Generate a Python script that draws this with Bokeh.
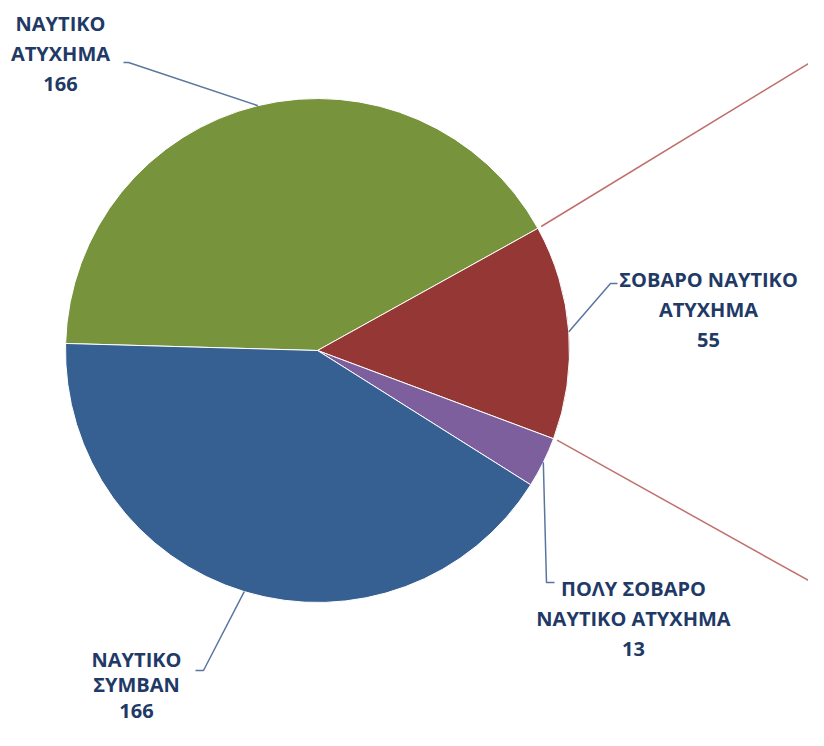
import math
from bokeh.plotting import figure
from bokeh.models import Range1d
from bokeh.core.properties import value
from bokeh.embed import file_html
from bokeh.resources import INLINE

# ---- data ----
categories = ["ΝΑΥΤΙΚΟ\nΑΤΥΧΗΜΑ", "ΣΟΒΑΡΟ ΝΑΥΤΙΚΟ\nΑΤΥΧΗΜΑ", "ΠΟΛΥ ΣΟΒΑΡΟ\nΝΑΥΤΙΚΟ ΑΤΥΧΗΜΑ", "ΝΑΥΤΙΚΟ\nΣΥΜΒΑΝ"]
counts = [166, 55, 13, 166]
colors = ["#77933C", "#953735", "#7D5F9E", "#376092"]

# ---- layout ----
W, H = 808, 730
CX, CY, R = 317, 350, 252
START_DEG = 178.4  # first slice starts here and runs clockwise

p = figure(width=W, height=H, output_backend="svg", toolbar_location=None,
           x_range=Range1d(0, W), y_range=Range1d(-H, 0),
           min_border=0, outline_line_color=None)
p.axis.visible = False
p.grid.visible = False
p.background_fill_color = "white"

total = sum(counts)
angles = []
a = math.radians(START_DEG)
for c in counts:
    span = 2 * math.pi * c / total
    angles.append((a - span, a))
    a -= span

for (s, e), col in zip(angles, colors):
    p.wedge(x=CX, y=-CY, radius=R, start_angle=s, end_angle=e,
            fill_color=col, line_color="white", line_width=1)

# connector lines toward the (cropped) secondary chart, from red slice boundaries
red_s, red_e = angles[1]
far_pts = [(808, 63), (808, 580)]
for ang, (fx, fy) in zip([red_e, red_s], far_pts):
    sx = CX + R * 1.015 * math.cos(ang)
    sy = CY - R * 1.015 * math.sin(ang)
    p.line([sx, fx], [-sy, -fy], line_color="#C0706C", line_width=1.5)

# leader lines and labels
elbows = [[(128, 62), (123, 62)], [(610, 283), (617, 283)],
          [(546, 582), (554, 582)], [(203, 670), (195, 670)]]
label_pos = [(60, 9), (708, 265), (633, 574), (136, 645)]
line_h = [1.12, 1.12, 1.12, 0.95]
for (s, e), elb, (lx, ly), lh, cat, cnt in zip(angles, elbows, label_pos, line_h, categories, counts):
    mid = (s + e) / 2
    x0 = CX + R * math.cos(mid)
    y0 = CY - R * math.sin(mid)
    xs = [x0] + [q[0] for q in elb]
    ys = [-y0] + [-q[1] for q in elb]
    p.line(xs, ys, line_color="#5A76A0", line_width=1.5)
    p.text(x=[lx], y=[-ly], text=[cat + "\n" + str(cnt)],
           text_font=value("Open Sans"), text_font_style="bold",
           text_font_size="20px", text_color="#1F3A66",
           text_align="center", text_baseline="top", text_line_height=lh)

open("out.html", "w").write(file_html(p, INLINE))
